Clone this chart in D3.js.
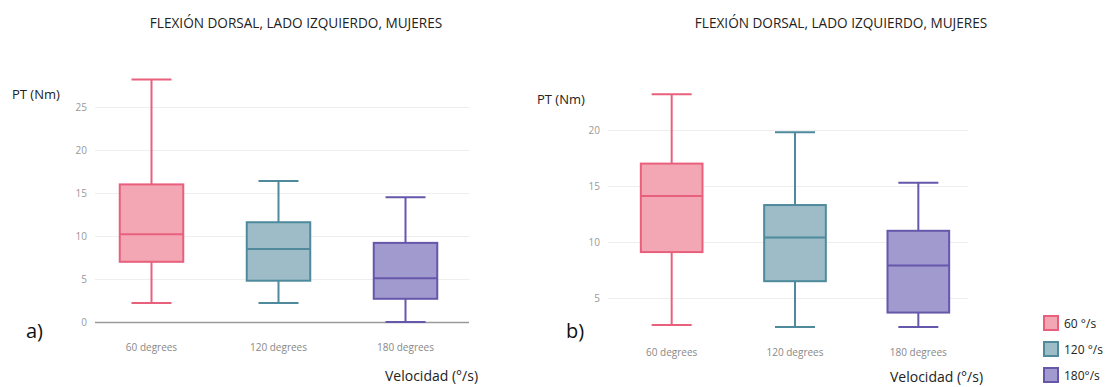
<!DOCTYPE html>
<html>
<head>
<meta charset="utf-8">
<script src="https://cdn.jsdelivr.net/npm/d3@7"></script>
<style>
  html, body { margin: 0; padding: 0; background: #fff; }
  svg { display: block; }
  .title { font-family: "Open Sans", sans-serif; font-size: 13.6px; fill: #222; }
  .ylab { font-family: "Open Sans", sans-serif; font-size: 13px; fill: #222; }
  .xlab { font-family: "Open Sans", sans-serif; font-size: 14px; fill: #222; }
  .panel { font-family: "Open Sans", sans-serif; font-size: 20px; fill: #111; }
  .tick text { font-family: "Open Sans", sans-serif; font-size: 10px; fill: #999; }
  .cat text { font-family: "Open Sans", sans-serif; font-size: 10px; fill: #888; }
  .legend text { font-family: "Open Sans", sans-serif; font-size: 12px; fill: #222; }
</style>
</head>
<body>
<script>
// Velocity groups
const categories = ["60 degrees", "120 degrees", "180 degrees"];
const legendLabels = ["60 °/s", "120 °/s", "180°/s"];

// Panel a) box statistics (Nm)
const aMin    = [2.2, 2.2, 0.0];
const aQ1     = [7.0, 4.8, 2.7];
const aMedian = [10.2, 8.5, 5.1];
const aQ3     = [16.0, 11.6, 9.2];
const aMax    = [28.2, 16.4, 14.5];

// Panel b) box statistics (Nm)
const bMin    = [2.6, 2.4, 2.4];
const bQ1     = [9.1, 6.5, 3.7];
const bMedian = [14.1, 10.4, 7.9];
const bQ3     = [17.0, 13.3, 11.0];
const bMax    = [23.2, 19.8, 15.3];

const aTicks = [0, 5, 10, 15, 20, 25];
const bTicks = [5, 10, 15, 20];

const fills   = ["#f3a7b4", "#9dbcc8", "#a19ace"];
const strokes = ["#e8607c", "#4e8a9c", "#6657ab"];

const svg = d3.select("body").append("svg")
  .attr("width", 1108).attr("height", 387);

function drawPanel(opts) {
  const g = svg.append("g");
  const x = d3.scaleBand().domain(categories).range(opts.xRange).paddingInner(0).paddingOuter(0);
  const y = d3.scaleLinear().domain(opts.yDomain).range(opts.yRange);

  // gridlines + tick labels
  const yAxis = d3.axisLeft(y).tickValues(opts.ticks).tickSize(-(opts.gridEnd - opts.gridStart)).tickPadding(8);
  const ax = g.append("g").attr("transform", `translate(${opts.gridStart},0)`).call(yAxis);
  ax.select(".domain").remove();
  ax.selectAll(".tick line").attr("stroke", "#eeeeee").attr("stroke-width", 1);
  if (opts.zeroLine) {
    ax.selectAll(".tick").filter(d => d === 0).select("line")
      .attr("stroke", "#9a9a9a").attr("stroke-width", 1.5);
  }

  // category labels
  const xAxis = d3.axisBottom(x).tickSize(0).tickPadding(0);
  const xa = g.append("g").attr("class", "cat").attr("transform", `translate(0,${opts.catY})`).call(xAxis);
  xa.select(".domain").remove();

  const s = opts.stats;
  const bw = x.bandwidth() * 0.5;
  const capW = 20;
  categories.forEach((c, i) => {
    const cx = x(c) + x.bandwidth() / 2;
    const bg = g.append("g");
    const st = strokes[i];
    // whiskers
    bg.append("line").attr("x1", cx).attr("x2", cx).attr("y1", y(s.max[i])).attr("y2", y(s.q3[i]))
      .attr("stroke", st).attr("stroke-width", 2);
    bg.append("line").attr("x1", cx).attr("x2", cx).attr("y1", y(s.q1[i])).attr("y2", y(s.min[i]))
      .attr("stroke", st).attr("stroke-width", 2);
    bg.append("line").attr("x1", cx - capW).attr("x2", cx + capW).attr("y1", y(s.max[i])).attr("y2", y(s.max[i]))
      .attr("stroke", st).attr("stroke-width", 2);
    bg.append("line").attr("x1", cx - capW).attr("x2", cx + capW).attr("y1", y(s.min[i])).attr("y2", y(s.min[i]))
      .attr("stroke", st).attr("stroke-width", 2);
    // box
    bg.append("rect").attr("x", cx - bw / 2).attr("width", bw)
      .attr("y", y(s.q3[i])).attr("height", y(s.q1[i]) - y(s.q3[i]))
      .attr("fill", fills[i]).attr("stroke", st).attr("stroke-width", 2);
    // median
    bg.append("line").attr("x1", cx - bw / 2).attr("x2", cx + bw / 2)
      .attr("y1", y(s.median[i])).attr("y2", y(s.median[i]))
      .attr("stroke", st).attr("stroke-width", 2);
  });

  svg.append("text").attr("class", "title").attr("x", opts.titleX).attr("y", opts.titleY)
    .attr("text-anchor", "middle").text("FLEXIÓN DORSAL, LADO IZQUIERDO, MUJERES");
  svg.append("text").attr("class", "ylab").attr("x", opts.ylabX).attr("y", opts.ylabY).text("PT (Nm)");
  svg.append("text").attr("class", "xlab").attr("x", opts.xlabX).attr("y", opts.xlabY).text("Velocidad (°/s)");
  svg.append("text").attr("class", "panel").attr("x", opts.panelX).attr("y", opts.panelY).text(opts.panel);
}

drawPanel({
  xRange: [88, 469], yDomain: [0, 25], yRange: [322, 107], ticks: aTicks,
  gridStart: 95, gridEnd: 469, zeroLine: true, catY: 344,
  stats: { min: aMin, q1: aQ1, median: aMedian, q3: aQ3, max: aMax },
  titleX: 296, titleY: 28, ylabX: 12, ylabY: 99, xlabX: 385, xlabY: 381,
  panelX: 26, panelY: 338, panel: "a)"
});

drawPanel({
  xRange: [610, 980], yDomain: [5, 20], yRange: [298, 130], ticks: bTicks,
  gridStart: 608, gridEnd: 968, zeroLine: false, catY: 349,
  stats: { min: bMin, q1: bQ1, median: bMedian, q3: bQ3, max: bMax },
  titleX: 841, titleY: 28, ylabX: 537, ylabY: 104, xlabX: 890, xlabY: 382,
  panelX: 566, panelY: 338, panel: "b)"
});

// legend
const leg = svg.append("g").attr("class", "legend");
legendLabels.forEach((l, i) => {
  const yy = 316 + i * 26;
  leg.append("rect").attr("x", 1044).attr("y", yy).attr("width", 14).attr("height", 14)
    .attr("fill", fills[i]).attr("stroke", strokes[i]).attr("stroke-width", 2);
  leg.append("text").attr("x", 1064).attr("y", yy + 12).text(l);
});
</script>
</body>
</html>
